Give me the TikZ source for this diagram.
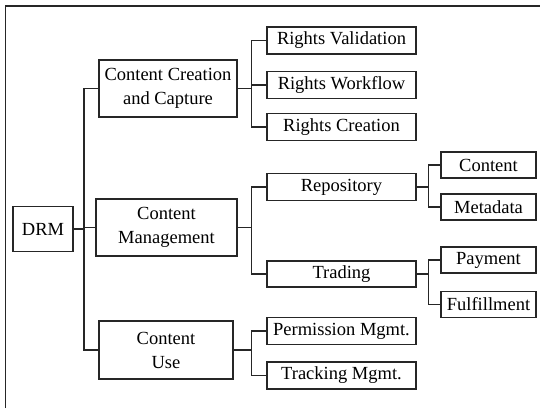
\documentclass[tikz,border=0pt]{standalone}
\usepackage{fontspec}
\setmainfont{Liberation Serif}
\begin{document}
\begin{tikzpicture}[x=1pt,y=-1pt,
  box/.style={draw=black!85, line width=1.3pt, fill=white, inner sep=0pt, align=center,
    font=\fontsize{18.5}{24}\selectfont},
  conn/.style={draw=black!85, line width=1.3pt}]
\useasboundingbox (0,0) rectangle (540,408);
% frame
\draw[line width=1.3pt, black!85] (5.5,408) -- (5.5,6) -- (540,6);
% level 0
\node[box, minimum width=60pt, minimum height=45pt] (drm) at (43,229) {DRM};
% level 1
\node[box, minimum width=138pt, minimum height=57pt] (ccc) at (168,88.5) {Content Creation\\and Capture};
\node[box, minimum width=141pt, minimum height=57pt] (cm) at (166.5,227.5) {Content\\Management};
\node[box, minimum width=134pt, minimum height=58pt] (cu) at (166,350) {Content\\Use};
% level 2
\node[box, minimum width=149pt, minimum height=27pt] (rv) at (341.5,40.5) {Rights Validation};
\node[box, minimum width=149pt, minimum height=27pt] (rw) at (341.5,85) {Rights Workflow};
\node[box, minimum width=149pt, minimum height=27pt] (rc) at (341.5,127) {Rights Creation};
\node[box, minimum width=149pt, minimum height=27pt] (rep) at (341.5,187) {Repository};
\node[box, minimum width=149pt, minimum height=26pt] (tr) at (341.5,274) {Trading};
\node[box, minimum width=149pt, minimum height=27pt] (pm) at (341.5,331) {Permission Mgmt.};
\node[box, minimum width=149pt, minimum height=27pt] (tm) at (341.5,375.5) {Tracking Mgmt.};
% level 3
\node[box, minimum width=95pt, minimum height=26pt] (con) at (488.5,165) {Content};
\node[box, minimum width=95pt, minimum height=26pt] (meta) at (488.5,207) {Metadata};
\node[box, minimum width=95pt, minimum height=26pt] (pay) at (488.5,260) {Payment};
\node[box, minimum width=95pt, minimum height=26pt] (ful) at (488.5,304.5) {Fulfillment};
% trunk
\coordinate (t0) at (84.5,229);
\draw[conn] (drm.east) -- (t0);
\draw[conn] (ccc.west) -- ++(-14.5,0) coordinate (t1) -- (t1 |- cu.west) -- (cu.west);
\draw[conn] (cm.west) -- (cm.west -| t1);
% CCC branch
\draw[conn] (ccc.east) -- ++(14,0) coordinate (b1);
\draw[conn] (rv.west) -- (rv.west -| b1) -- (rc.west -| b1) -- (rc.west);
\draw[conn] (rw.west) -- (rw.west -| b1);
% CM branch
\draw[conn] (cm.east) -- ++(14,0) coordinate (b2);
\draw[conn] (rep.west) -- (rep.west -| b2) -- (tr.west -| b2) -- (tr.west);
% CU branch
\draw[conn] (cu.east) -- ++(18,0) coordinate (b3);
\draw[conn] (pm.west) -- (pm.west -| b3) -- (tm.west -| b3) -- (tm.west);
% Repository branch
\draw[conn] (rep.east) -- ++(12,0) coordinate (b4);
\draw[conn] (con.west) -- (con.west -| b4) -- (meta.west -| b4) -- (meta.west);
% Trading branch
\draw[conn] (tr.east) -- ++(12,0) coordinate (b5);
\draw[conn] (pay.west) -- (pay.west -| b5) -- (ful.west -| b5) -- (ful.west);
\end{tikzpicture}
\end{document}
